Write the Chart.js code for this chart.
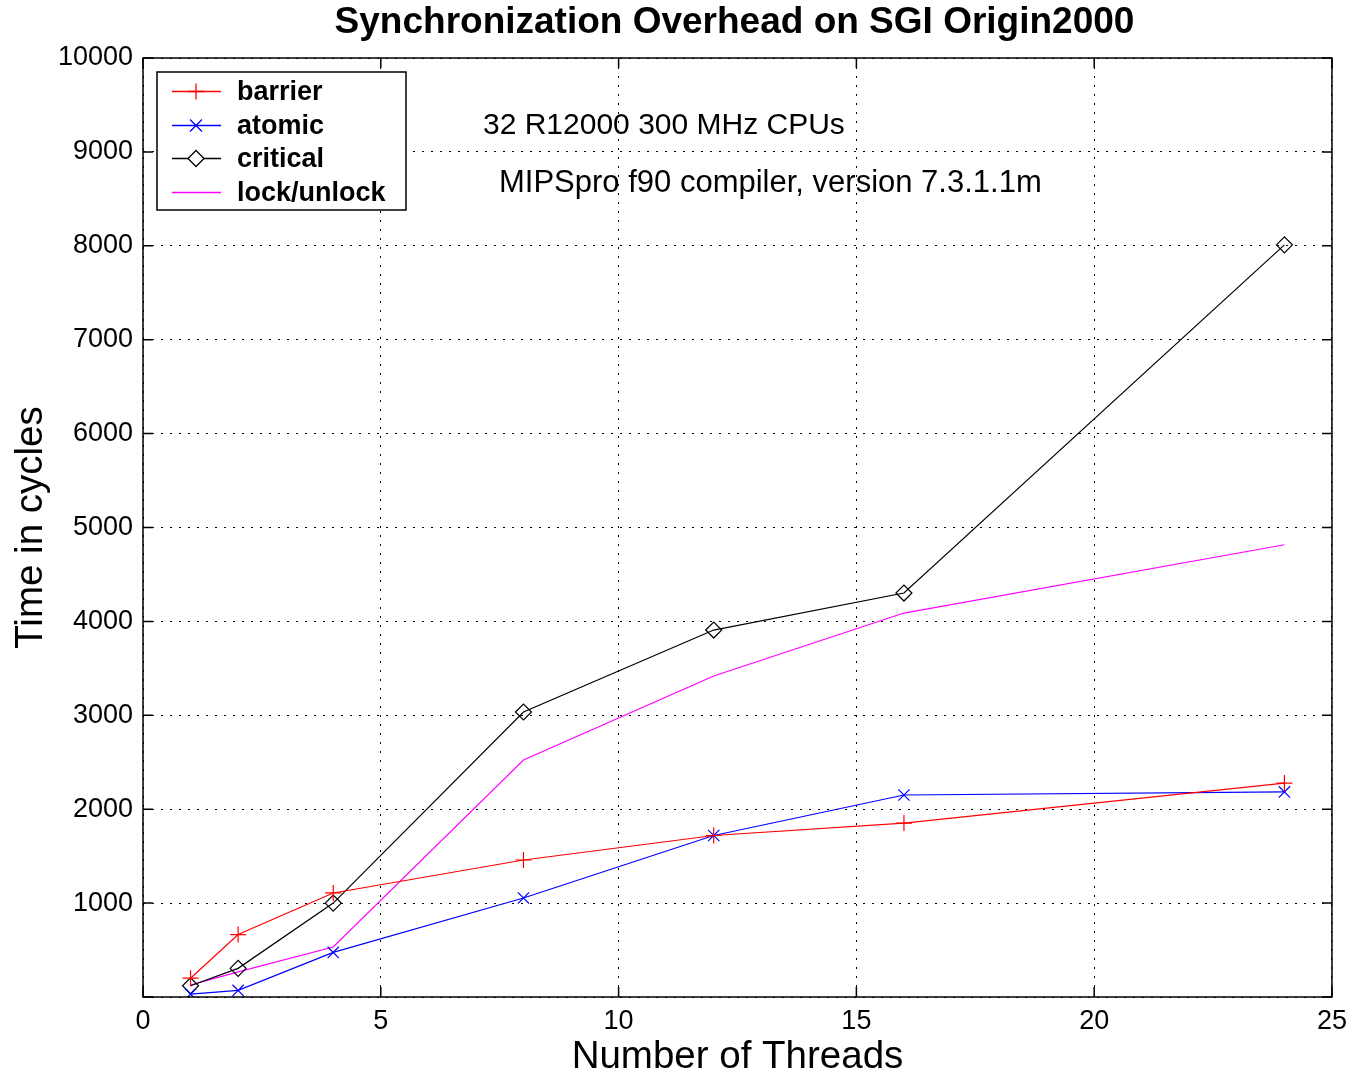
<!DOCTYPE html>
<html>
<head>
<meta charset="utf-8">
<script src="https://cdn.jsdelivr.net/npm/chart.js@4/dist/chart.umd.min.js"></script>
<style>
  html, body { margin: 0; padding: 0; background: #fff; }
  #wrap { width: 1355px; height: 1077px; position: relative; }
</style>
</head>
<body>
<div id="wrap"><canvas id="syncChart"></canvas></div>
<script>
// data
const threads = [1, 2, 4, 8, 12, 16, 24];
const barrier = [200, 665, 1108, 1459, 1720, 1852, 2278];
const atomic = [30, 70, 475, 1054, 1720, 2151, 2184];
const critical = [120, 305, 1000, 3035, 3908, 4302, 8010];
const lockUnlock = [128, 268, 532, 2524, 3418, 4089, 4816];
const yTicks = [0, 1000, 2000, 3000, 4000, 5000, 6000, 7000, 8000, 9000, 10000];
const xTicks = [0, 5, 10, 15, 20, 25];
const notes = ["32 R12000 300 MHz CPUs", "MIPSpro f90 compiler, version 7.3.1.1m"];

const FONT = "'Liberation Sans', Arial, Helvetica, sans-serif";

function series(label, values, color, style) {
  return {
    label: label,
    data: threads.map((t, i) => ({ x: t, y: values[i] })),
    borderColor: color,
    backgroundColor: color,
    borderWidth: 1.2,
    pointStyle: style || "circle",
    pointRadius: style ? 8 : 0,
    pointHoverRadius: style ? 8 : 0,
    pointBorderColor: color,
    pointBackgroundColor: style === "rectRot" ? "rgba(255,255,255,0)" : color,
    pointBorderWidth: 1.2,
    tension: 0,
  };
}

// box, inward ticks, title, notes and legend (MATLAB style)
const decorations = {
  id: "decorations",
  afterDraw(chart) {
    const ctx = chart.ctx;
    const a = chart.chartArea;
    const xs = chart.scales.x;
    const ys = chart.scales.y;
    ctx.save();
    ctx.strokeStyle = "#000";
    ctx.lineWidth = 1.5;
    ctx.strokeRect(a.left, a.top, a.right - a.left, a.bottom - a.top);
    ctx.beginPath();
    xTicks.forEach((v) => {
      const px = xs.getPixelForValue(v);
      ctx.moveTo(px, a.bottom); ctx.lineTo(px, a.bottom - 10);
      ctx.moveTo(px, a.top); ctx.lineTo(px, a.top + 10);
    });
    yTicks.forEach((v) => {
      const py = ys.getPixelForValue(v);
      ctx.moveTo(a.left, py); ctx.lineTo(a.left + 10, py);
      ctx.moveTo(a.right, py); ctx.lineTo(a.right - 10, py);
    });
    ctx.stroke();

    // title
    ctx.fillStyle = "#000";
    ctx.font = "bold 37px " + FONT;
    ctx.textAlign = "center";
    ctx.textBaseline = "middle";
    ctx.fillText("Synchronization Overhead on SGI Origin2000", (a.left + a.right) / 2 - 3, 23);

    // notes
    ctx.textAlign = "left";
    ctx.font = "30px " + FONT;
    ctx.fillText(notes[0], 483, 126);
    ctx.font = "31px " + FONT;
    ctx.fillText(notes[1], 499, 183);

    // legend
    ctx.fillStyle = "#fff";
    ctx.fillRect(157, 72, 249, 138);
    ctx.strokeStyle = "#000";
    ctx.lineWidth = 1.5;
    ctx.strokeRect(157, 72, 249, 138);
    ctx.font = "bold 27px " + FONT;
    chart.data.datasets.forEach((ds, i) => {
      const y = Math.round(91 + i * 33.5) + 0.5;
      const color = ds.borderColor;
      ctx.strokeStyle = color;
      ctx.lineWidth = 1.3;
      ctx.beginPath();
      ctx.moveTo(172, y); ctx.lineTo(221, y);
      ctx.stroke();
      if (ds.pointRadius > 0) {
        ctx.beginPath();
        if (ds.pointStyle === "cross") {
          ctx.moveTo(196, y - 8); ctx.lineTo(196, y + 8);
          ctx.moveTo(188, y); ctx.lineTo(204, y);
          ctx.stroke();
        } else if (ds.pointStyle === "crossRot") {
          ctx.moveTo(190, y - 6); ctx.lineTo(202, y + 6);
          ctx.moveTo(190, y + 6); ctx.lineTo(202, y - 6);
          ctx.stroke();
        } else if (ds.pointStyle === "rectRot") {
          ctx.fillStyle = "#fff";
          ctx.moveTo(196, y - 8); ctx.lineTo(204, y); ctx.lineTo(196, y + 8); ctx.lineTo(188, y);
          ctx.closePath();
          ctx.fill(); ctx.stroke();
        }
      }
      ctx.fillStyle = "#000";
      ctx.textBaseline = "middle";
      ctx.fillText(ds.label, 237, y + 1);
    });
    ctx.restore();
  },
};

new Chart(document.getElementById("syncChart"), {
  type: "line",
  data: {
    datasets: [
      series("barrier", barrier, "#ff0000", "cross"),
      series("atomic", atomic, "#0000ff", "crossRot"),
      series("critical", critical, "#000000", "rectRot"),
      series("lock/unlock", lockUnlock, "#ff00ff", null),
    ],
  },
  options: {
    responsive: true,
    maintainAspectRatio: false,
    animation: false,
    layout: { padding: { top: 58, right: 22, left: 0, bottom: 0 } },
    plugins: {
      legend: { display: false },
      title: { display: false },
      tooltip: { enabled: false },
    },
    scales: {
      x: {
        type: "linear",
        min: 0,
        max: 25,
        afterBuildTicks(scale) { scale.ticks = xTicks.map((v) => ({ value: v })); },
        afterFit(scale) { scale.height = 80; },
        ticks: { color: "#000", font: { family: FONT, size: 27 }, padding: 8 },
        grid: { color: "#000", lineWidth: 1, drawTicks: false },
        border: { display: false, dash: [2, 7] },
        title: {
          display: true,
          text: "Number of Threads",
          color: "#000",
          font: { family: FONT, size: 38.5, lineHeight: 1 },
          padding: { top: 0, bottom: 0 },
        },
      },
      y: {
        min: 0,
        max: 10000,
        afterBuildTicks(scale) { scale.ticks = yTicks.map((v) => ({ value: v })); },
        afterFit(scale) { scale.width = 143; },
        ticks: {
          color: "#000",
          font: { family: FONT, size: 27 },
          padding: 10,
          callback: (v) => (v === 0 ? "" : v),
        },
        grid: { color: "#000", lineWidth: 1, drawTicks: false },
        border: { display: false, dash: [2, 7] },
        title: {
          display: true,
          text: "Time in cycles",
          color: "#000",
          font: { family: FONT, size: 38.5, lineHeight: 1 },
          padding: { top: 12, bottom: 0 },
        },
      },
    },
  },
  plugins: [decorations],
});
</script>
</body>
</html>
